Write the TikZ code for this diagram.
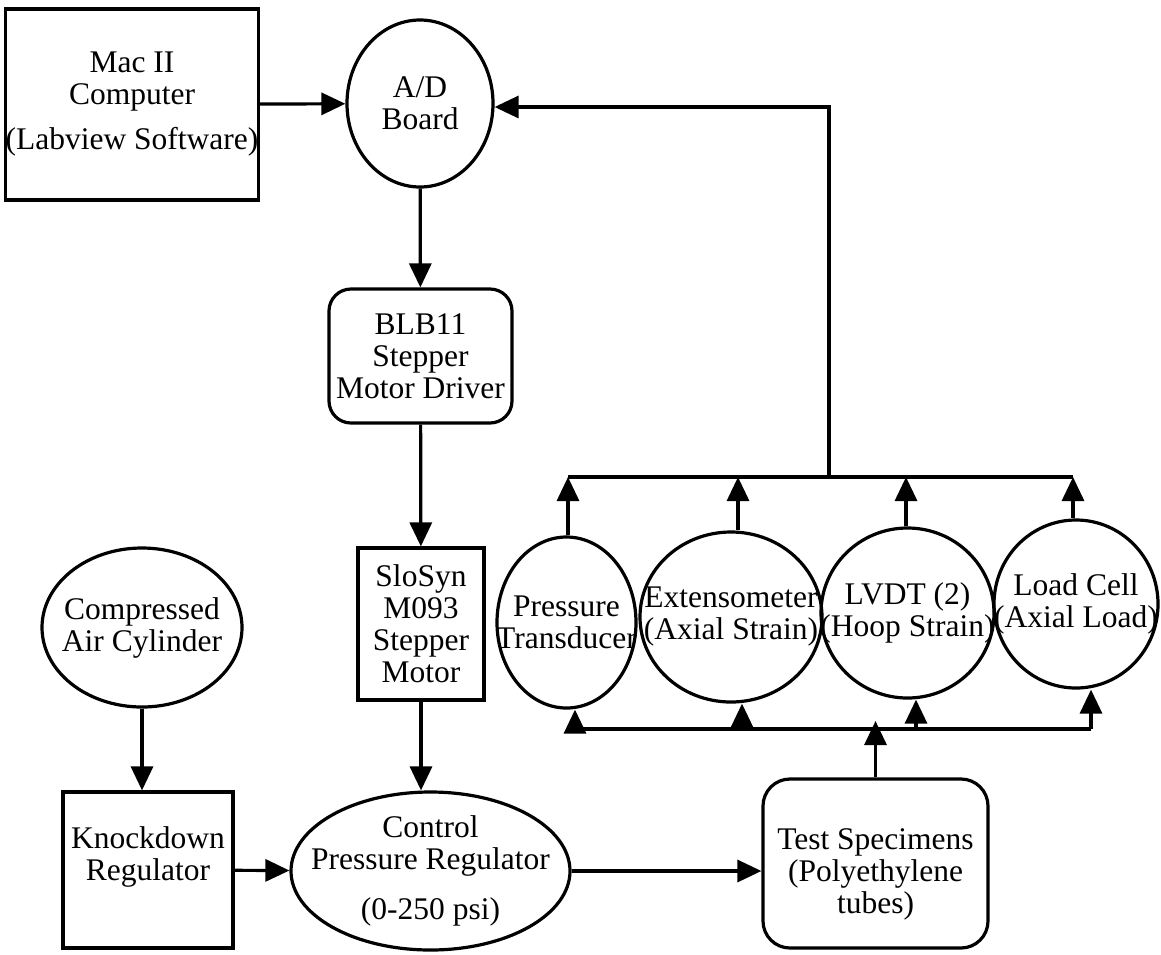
\documentclass[tikz,border=0pt]{standalone}
\usepackage{fontspec}
\setmainfont{Liberation Serif}
\usetikzlibrary{shapes.geometric,arrows.meta}
\begin{document}
\begin{tikzpicture}[x=1pt,y=-1pt,line width=3.2pt,
		every node/.style={font=\fontsize{31.5}{32}\selectfont,align=center,inner sep=0pt},
		box/.style={draw,rectangle},
		rbox/.style={draw,rectangle,rounded corners=22pt},
		oval/.style={draw,ellipse,inner xsep=-30pt,inner ysep=0pt},
		arr/.style={-{Triangle[length=24pt,width=22pt]}}]
			\useasboundingbox (0,0) rectangle (1161,954);
			\node[box,minimum width=248pt,minimum height=191pt](mac) at (132,104.5){Mac II\\Computer\\[13pt](Labview Software)};
			\node[oval,minimum width=146pt,minimum height=167pt](ad) at (420,103.5){A/D\\Board};
			\node[rbox,minimum width=183pt,minimum height=134pt](blb) at (420.5,356){BLB11\\Stepper\\Motor Driver};
			\node[box,minimum width=126pt,minimum height=152pt](slo) at (421,624){SloSyn\\M093\\Stepper\\Motor};
			\node[oval,minimum width=200pt,minimum height=159pt](air) at (142,627.5){Compressed\\Air Cylinder};
			\node[box,minimum width=170pt,minimum height=156pt](knock) at (148,870){Knockdown\\Regulator\\\mbox{}};
			\node[oval,minimum width=279pt,minimum height=158pt](ctrl) at (430.5,871){Control\\Pressure Regulator\\[18pt](0-250 psi)};
			
			\node[oval,minimum width=139pt,minimum height=171pt](pt) at (566.5,622.5){Pressure\\Transducer};
			\node[oval,minimum width=182pt,minimum height=170pt](ext) at (731,617){Extensometer\\(Axial Strain)};
			\node[oval,minimum width=173pt,minimum height=170pt](lvdt) at (907.5,613){LVDT (2)\\(Hoop Strain)};
			\node[oval,minimum width=164pt,minimum height=168pt](load) at (1076,604){Load Cell\\(Axial Load)};
			\node[rbox,rounded corners=27pt,minimum width=225pt,minimum height=169pt,label={[align=center,yshift=-11pt]center:Test Specimens\\(Polyethylene\\tubes)}](test) at (875.5,863.5){};
			
			\coordinate (tp) at (568,477);
			\coordinate (te) at (738,477);
			\coordinate (tj) at (829,477);
			\coordinate (tl) at (906,477);
			\coordinate (tc) at (1073,477);
			\coordinate (adin) at (829,107);
			\coordinate (bp) at (575,729);
			\coordinate (be) at (742,729);
			\coordinate (bs) at (875.5,721);
			\coordinate (bl) at (916,729);
			\coordinate (bc) at (1091,729);
			
			\draw[arr](mac)--(ad);
			\draw[arr](ad)--(blb);
			\draw[arr](blb)--(slo);
			\draw[arr](slo.south)--(slo.south|-ctrl.north);
			\draw[arr](air.south)--(air.south|-knock.north);
			\draw[arr](knock)--(ctrl);
			\draw[arr](ctrl.east)--(ctrl.east-|test.west);
			\draw[arr](test.north)--(bs);
			\draw(bp)--(bc);
			\draw[arr](bp)--(bp|-pt.south);
			\draw[arr](be)--(be|-ext.south);
			\draw[arr](bl)--(bl|-lvdt.south);
			\draw[arr](bc)--(bc|-load.south);
			\draw(tp)--(tc);
			\draw[arr](tp|-pt.north)--(tp);
			\draw[arr](te|-ext.north)--(te);
			\draw[arr](tl|-lvdt.north)--(tl);
			\draw[arr](tc|-load.north)--(tc);
			\draw[arr](tj)--(adin)--(adin-|ad.east);
		\end{tikzpicture}
\end{document}
